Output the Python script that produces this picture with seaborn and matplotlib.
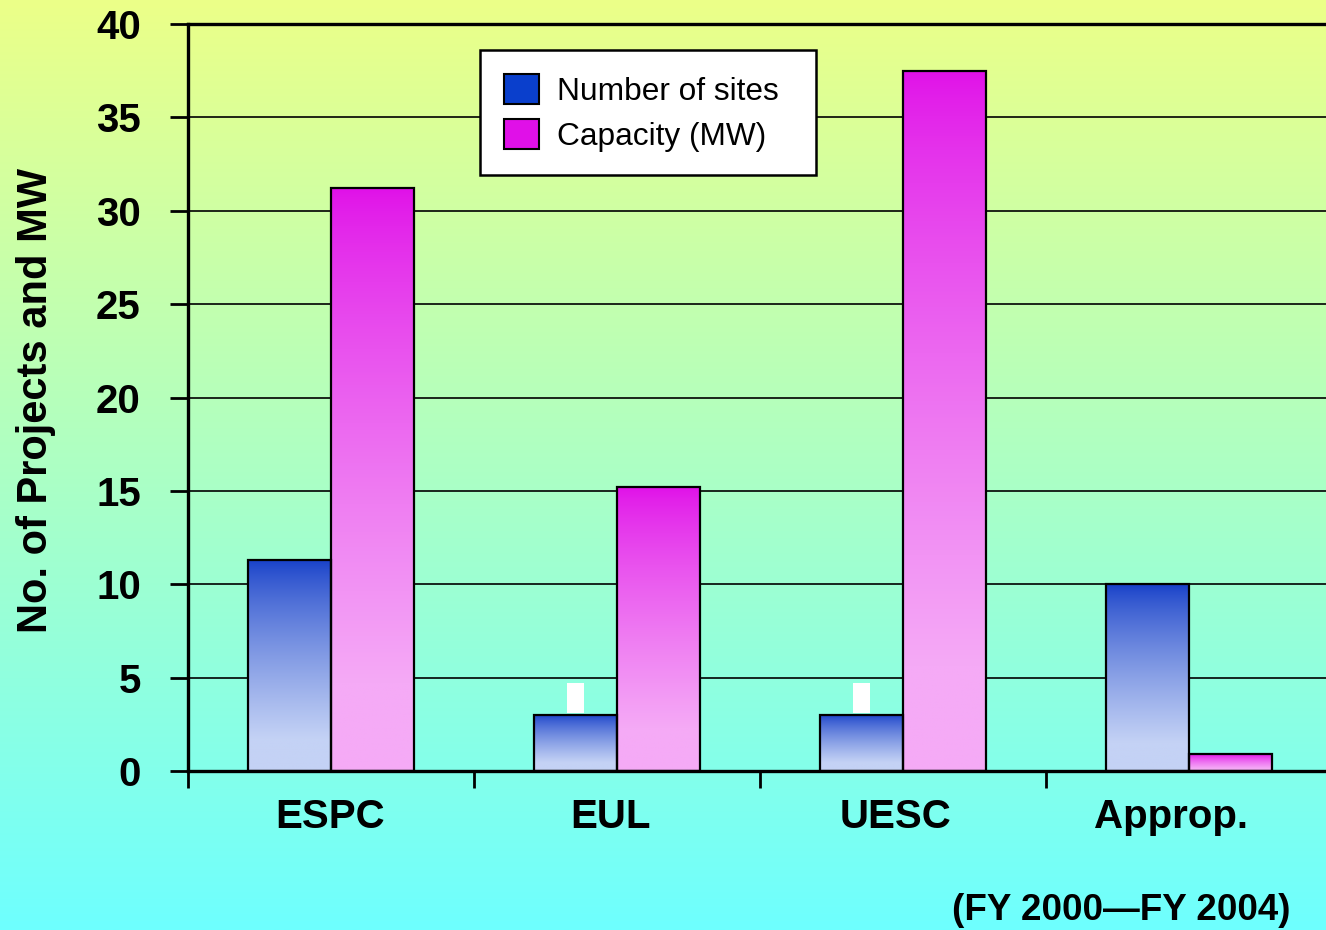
import numpy as np
import pandas as pd
import matplotlib.pyplot as plt
import matplotlib.transforms as mtransforms
import seaborn as sns
from matplotlib.patches import Patch

# Data
programs = ["ESPC", "EUL", "UESC", "Approp."]
num_sites = [11.3, 3.0, 3.0, 10.0]
capacity_mw = [31.2, 15.2, 37.5, 0.9]
series = ["Number of sites", "Capacity (MW)"]
blank_label_programs = ["EUL", "UESC"]  # little white boxes above the small blue bars
y_label = "No. of Projects and MW"
footnote = "(FY 2000\u2014FY 2004)"
label_nudge_px = [-1, -6, -7, -18]  # category labels sit a little left of centre

df = pd.DataFrame({
    "program": programs * 2,
    "series": [series[0]] * len(programs) + [series[1]] * len(programs),
    "value": num_sites + capacity_mw,
})

BLUE = "#0a3fcc"
MAGENTA = "#e010e8"
BLUE_TOP, BLUE_BOT = np.array([20, 62, 200]), np.array([196, 210, 245])
MAG_TOP, MAG_BOT = np.array([224, 16, 232]), np.array([245, 170, 246])

sns.set_theme(style="white")
plt.rcParams['font.family'] = ['Liberation Sans', 'DejaVu Sans']
plt.rcParams['font.weight'] = 'bold'
for k in ['text.color', 'axes.labelcolor', 'xtick.color', 'ytick.color']:
    plt.rcParams[k] = 'black'

W, H = 1326, 930
fig = plt.figure(figsize=(W / 100, H / 100), dpi=100)

# background gradient yellow -> cyan
bg = fig.add_axes([0, 0, 1, 1], zorder=-10)
t = np.linspace(0, 1, 400)[:, None, None]
top_c = np.array([236, 255, 136]) / 255
bot_c = np.array([110, 255, 255]) / 255
bg.imshow(top_c + (bot_c - top_c) * t, aspect='auto', extent=[0, 1, 0, 1])
bg.axis('off')

ax = fig.add_axes([188 / W, 1 - 771 / H, 1 - 188 / W, (771 - 24) / H])
ax.patch.set_alpha(0)

sns.barplot(data=df, x="program", y="value", hue="series", order=programs,
            hue_order=series, palette=[BLUE, MAGENTA], saturation=1, width=0.58,
            errorbar=None, edgecolor="black", linewidth=1.6, legend=False,
            zorder=3, ax=ax)


def grad(c_top, c_bot, n=256):
    f = np.linspace(0, 1, n)
    f = np.clip(f / 0.85, 0, 1) ** 0.75
    return ((c_top + (c_bot - c_top) * f[:, None]) / 255)[:, None, :]


containers = list(ax.containers)
white_boxes = []
for ci, cont in enumerate(containers):
    is_blue = ci == 0
    g = grad(BLUE_TOP, BLUE_BOT) if is_blue else grad(MAG_TOP, MAG_BOT)
    for prog, p in zip(programs, cont.patches):
        x0, w, h = p.get_x(), p.get_width(), p.get_height()
        ax.imshow(g, extent=[x0, x0 + w, 0, h], aspect='auto', origin='upper', zorder=2.5)
        p.set_facecolor('none')
        if is_blue and prog in blank_label_programs:
            white_boxes.append((x0 + w / 2, w * 0.2, h + 0.1))

for cx, bw, b in white_boxes:
    ax.bar(cx, 1.6, width=bw, bottom=b, color='white', linewidth=0, zorder=3)

ax.set_ylim(0, 40)
ax.set_yticks(range(0, 41, 5))
ax.yaxis.grid(True, color='black', linewidth=1.2)
ax.set_axisbelow(True)

# ticks at category boundaries, labels at (nudged) centres
ax.set_xticks([-0.5, 0.5, 1.5, 2.5, 3.5])
ax.set_xticklabels([])
ax.tick_params(axis='x', which='major', direction='out', length=12, width=2, bottom=True)
ax.tick_params(axis='y', direction='out', length=13, width=2, pad=21, labelsize=29, left=True)
for lab in ax.get_yticklabels():
    lab.set_fontweight('bold')
ax.set_xlabel("")
ax.set_ylabel("")
ax.set_xlim(-0.5, 3.48)

xt = mtransforms.blended_transform_factory(ax.transData, ax.transAxes)
for i, (prog, nudge) in enumerate(zip(programs, label_nudge_px)):
    tr = xt + mtransforms.ScaledTranslation(nudge / 100, 0, fig.dpi_scale_trans)
    ax.text(i, -0.036, prog, transform=tr, ha='center', va='top',
            fontsize=29, fontweight='bold', clip_on=False)

for side in ['left', 'bottom', 'top']:
    ax.spines[side].set_visible(True)
    ax.spines[side].set_color('black')
    ax.spines[side].set_linewidth(2.4)
ax.spines['right'].set_visible(False)

fig.text(36 / W, 1 - 400 / H, y_label, rotation=90, ha='center', va='center',
         fontsize=30, fontweight='bold')
fig.text(1290 / W, 1 - 910 / H, footnote, ha='right', va='center',
         fontsize=26.5, fontweight='bold')

handles = [Patch(facecolor=BLUE, edgecolor='black', linewidth=1.5),
           Patch(facecolor=MAGENTA, edgecolor='black', linewidth=1.5)]
leg = fig.legend(handles, series, loc='upper left',
                 bbox_to_anchor=(480 / W, 1 - 176 / H, 336 / W, 126 / H), mode='expand',
                 borderaxespad=0, frameon=True, fancybox=False, edgecolor='black',
                 facecolor='white', framealpha=1, handlelength=1.1, handleheight=1.1,
                 labelspacing=0.38, borderpad=0.75, handletextpad=0.57,
                 prop={'weight': 'normal', 'size': 22.8})
leg.get_frame().set_linewidth(1.8)

fig.savefig("out.png", dpi=100)
